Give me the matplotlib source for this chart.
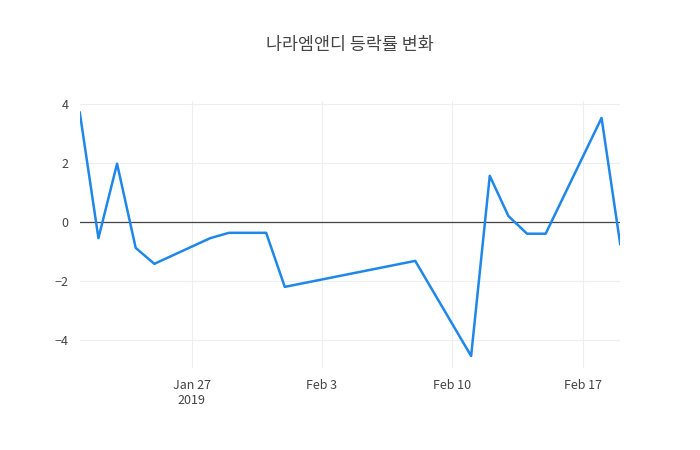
import matplotlib.pyplot as plt
import matplotlib.dates as mdates
import numpy as np
import pandas as pd

plt.rcParams['font.family'] = ['Noto Sans CJK KR', 'DejaVu Sans']

dates = pd.to_datetime(['2019-01-21', '2019-01-22', '2019-01-23', '2019-01-24', '2019-01-25',
                        '2019-01-28', '2019-01-29', '2019-01-31', '2019-02-01', '2019-02-08',
                        '2019-02-11', '2019-02-12', '2019-02-13', '2019-02-14', '2019-02-15',
                        '2019-02-18', '2019-02-19'])
rates = [3.7, -0.55, 1.97, -0.88, -1.42, -0.55, -0.37, -0.37, -2.2, -1.32,
         -4.54, 1.56, 0.2, -0.4, -0.4, 3.52, -0.75]

fig = plt.figure(figsize=(7, 4.5), dpi=100)
ax = fig.add_axes([0.114, 0.182, 0.772, 0.594])
ax.plot(dates, rates, color='#1f87e8', lw=1.8, zorder=3)
ax.axhline(0, color='#444444', lw=0.9, zorder=2)

ax.set_xlim(dates[0], dates[-1])
ax.set_ylim(-4.95, 4.1)
ax.set_yticks([-4, -2, 0, 2, 4])
ax.set_yticklabels(['−4', '−2', '0', '2', '4'])
ticks = pd.to_datetime(['2019-01-27', '2019-02-03', '2019-02-10', '2019-02-17'])
ax.set_xticks(ticks)
ax.set_xticklabels(['Jan 27\n2019', 'Feb 3', 'Feb 10', 'Feb 17'])
ax.grid(color='#eeeeee', lw=0.8)
for s in ax.spines.values():
    s.set_visible(False)
ax.tick_params(length=0, labelsize=9, colors='#444444', pad=8)
for lab in ax.get_xticklabels():
    lab.set_verticalalignment('top')

fig.suptitle('나라엠앤디 등락률 변화', y=0.92, fontsize=12.5, color='#444444')
fig.savefig('out.png', dpi=100)
